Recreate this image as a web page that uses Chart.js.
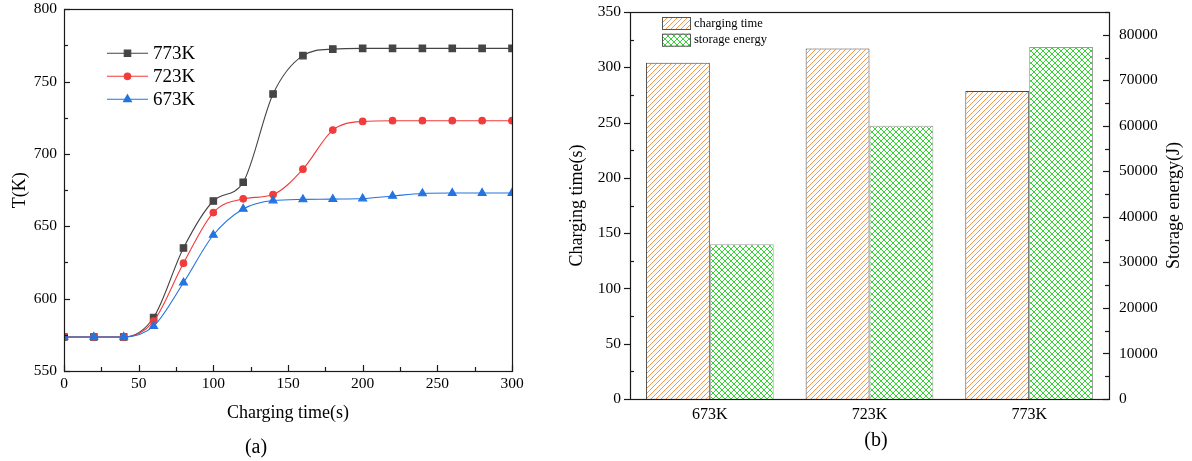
<!DOCTYPE html>
<html>
<head>
<meta charset="utf-8">
<script src="https://cdn.jsdelivr.net/npm/chart.js@4.4.1/dist/chart.umd.min.js"></script>
<style>
  html, body { margin: 0; padding: 0; background: #fff; }
  #wrap { position: relative; width: 1192px; height: 461px; }
  #chartA { position: absolute; left: 0; top: 0; }
  #chartB { position: absolute; left: 560px; top: 0; }
</style>
</head>
<body>
<div id="wrap">
  <canvas id="chartA" width="560" height="461"></canvas>
  <canvas id="chartB" width="632" height="461"></canvas>
</div>
<script>
// (a) outlet temperature vs charging time
const chargingTime = [0, 20, 40, 60, 80, 100, 120, 140, 160, 180, 200, 220, 240, 260, 280, 300];
const temp773 = [573.5, 573.5, 573.5, 587, 635, 667.5, 680.5, 741.5, 768, 772.5, 773, 773, 773, 773, 773, 773];
const temp723 = [573.5, 573.5, 573.5, 584.5, 624.5, 659.5, 669, 672, 689.5, 716.5, 722.5, 723, 723, 723, 723, 723];
const temp673 = [573.5, 573.5, 573.5, 581, 611, 644, 662, 667.8, 668.6, 668.8, 669.2, 671, 672.7, 673, 673, 673];

// (b) charging time and stored energy per temperature
const tempGroups = ['673K', '723K', '773K'];
const chargeTimeSec = [304, 317, 278.5];
const storageEnergyJ = [34000, 60000, 77300];

const serif = "'Liberation Serif', 'Times New Roman', serif";
const ink = '#1a1a1a';

const pts = (ys) => chargingTime.map((t, i) => ({ x: t, y: ys[i] }));

// fill patterns for the bars
function makePattern(color, step, cross) {
    const c = document.createElement('canvas');
    c.width = c.height = step;
    const g = c.getContext('2d');
    g.fillStyle = '#fff';
    g.fillRect(0, 0, step, step);
    g.strokeStyle = color;
    g.lineWidth = 1;
    g.beginPath();
    g.moveTo(-1, step + 1); g.lineTo(step + 1, -1);
    g.moveTo(-1, 1); g.lineTo(1, -1);
    g.moveTo(step - 1, step + 1); g.lineTo(step + 1, step - 1);
    if (cross) {
        g.moveTo(-1, -1); g.lineTo(step + 1, step + 1);
        g.moveTo(-1, step - 1); g.lineTo(1, step + 1);
        g.moveTo(step - 1, -1); g.lineTo(step + 1, 1);
    }
    g.stroke();
    return g.createPattern(c, 'repeat');
}
const orangeHatch = makePattern('#f39a4e', 5, false);
const greenCross = makePattern('#35d335', 6, true);

// box around plot + tick marks (origin style)
function drawFrame(chart) {
    const { ctx, chartArea: a } = chart;
    ctx.save();
    ctx.strokeStyle = ink;
    ctx.lineWidth = 1.2;
    ctx.strokeRect(Math.round(a.left) + 0.5, Math.round(a.top) + 0.5, Math.round(a.right - a.left), Math.round(a.bottom - a.top));
    ctx.restore();
}

function drawTicks(chart, id, minorStep, majorStep, majorOut, minorOut) {
    const s = chart.scales[id];
    const a = chart.chartArea;
    const ctx = chart.ctx;
    ctx.save();
    ctx.strokeStyle = ink;
    ctx.lineWidth = 1.2;
    s.ticks.forEach(t => {
        const r = t.value / minorStep;
        if (Math.abs(r - Math.round(r)) > 1e-6) return;
        const major = Math.abs(t.value % majorStep) < 1e-6;
        const len = major ? 6 : 4;
        const out = major ? majorOut : minorOut;
        const p = Math.round(s.getPixelForValue(t.value)) + 0.5;
        ctx.beginPath();
        if (s.position === 'bottom') {
            ctx.moveTo(p, a.bottom);
            ctx.lineTo(p, out ? a.bottom + len : a.bottom - len);
        } else {
            const x0 = s.position === 'left' ? a.left : a.right;
            const sign = s.position === 'left' ? (out ? -1 : 1) : (out ? 1 : -1);
            ctx.moveTo(x0, p);
            ctx.lineTo(x0 + sign * len, p);
        }
        ctx.stroke();
    });
    ctx.restore();
}

const chartAExtras = {
    id: 'chartAExtras',
    afterDraw(chart) {
        drawFrame(chart);
        drawTicks(chart, 'x', 25, 50, false, false);
        drawTicks(chart, 'y', 25, 50, false, false);
        // legend inside the plot, in 773/723/673 order
        const ctx = chart.ctx;
        const a = chart.chartArea;
        const x0 = a.left + 43, y0 = a.top + 44;
        const sets = chart.data.datasets;
        ctx.save();
        sets.forEach((ds, i) => {
            const y = y0 + i * 23;
            ctx.strokeStyle = ds.borderColor;
            ctx.fillStyle = ds.backgroundColor;
            ctx.lineWidth = ds.borderWidth;
            ctx.beginPath();
            ctx.moveTo(x0, y);
            ctx.lineTo(x0 + 41, y);
            ctx.stroke();
            Chart.helpers.drawPoint(ctx, { pointStyle: ds.pointStyle, radius: ds.pointRadius, rotation: 0, borderWidth: 1 }, x0 + 20.5, y);
            ctx.fillStyle = '#000';
            ctx.font = '19px ' + serif;
            ctx.textBaseline = 'middle';
            ctx.fillText(ds.label, x0 + 46, y + 1);
        });
        ctx.restore();
    }
};

const chartBExtras = {
    id: 'chartBExtras',
    afterDraw(chart) {
        drawFrame(chart);
        drawTicks(chart, 'y', 25, 50, true, false);
        drawTicks(chart, 'y1', 5000, 10000, false, false);
        const ctx = chart.ctx;
        const a = chart.chartArea;
        // right axis title reads bottom to top
        ctx.save();
        ctx.fillStyle = '#000';
        ctx.font = '18px ' + serif;
        ctx.textAlign = 'center';
        ctx.textBaseline = 'middle';
        ctx.translate(a.right + 65, (a.top + a.bottom) / 2);
        ctx.rotate(-Math.PI / 2);
        ctx.fillText('Storage energy(J)', 0, 0);
        ctx.restore();
        // legend boxes
        ctx.save();
        const lx = a.left + 32, ly = a.top + 5;
        chart.data.datasets.forEach((ds, i) => {
            const y = ly + i * 16.7;
            ctx.fillStyle = ds.backgroundColor;
            ctx.fillRect(lx, y, 29, 13);
            ctx.strokeStyle = '#555';
            ctx.lineWidth = 1;
            ctx.strokeRect(lx + 0.5, y + 0.5, 28, 12);
            ctx.fillStyle = '#000';
            ctx.font = '12.5px ' + serif;
            ctx.textBaseline = 'middle';
            ctx.fillText(ds.label, lx + 32, y + 6.5);
        });
        ctx.restore();
    }
};

const tickFont = { family: serif, size: 15.5 };
const titleFont = { family: serif, size: 18 };

// vertical axes: label gap comes from an invisible tick length instead of
// ticks.padding, since chart.js also adds ticks.padding above the plot
const hiddenGrid = (gap) => ({ display: false, drawTicks: true, tickLength: gap });

new Chart(document.getElementById('chartA'), {
    type: 'line',
    data: {
        datasets: [
            { label: '773K', data: pts(temp773), borderColor: '#454545', backgroundColor: '#454545', pointStyle: 'rect', pointRadius: 4.6, borderWidth: 1.1, cubicInterpolationMode: 'monotone', order: 3 },
            { label: '723K', data: pts(temp723), borderColor: '#f23b3b', backgroundColor: '#f23b3b', pointStyle: 'circle', pointRadius: 3.3, borderWidth: 1.1, cubicInterpolationMode: 'monotone', order: 2 },
            { label: '673K', data: pts(temp673), borderColor: '#2374e1', backgroundColor: '#2374e1', pointStyle: 'triangle', pointRadius: 4.6, borderWidth: 1.1, cubicInterpolationMode: 'monotone', order: 1 }
        ]
    },
    options: {
        responsive: false,
        animation: false,
        layout: { padding: { top: 0, right: 48, left: 0, bottom: 0 } },
        plugins: {
            legend: { display: false },
            tooltip: { enabled: false },
            title: { display: true, text: '(a)', position: 'bottom', color: '#000', font: { family: serif, size: 20, weight: 'normal' }, padding: { top: 0, bottom: 1 } }
        },
        scales: {
            x: {
                type: 'linear', min: 0, max: 300,
                grid: { display: false, drawTicks: false },
                border: { display: false },
                ticks: { stepSize: 25, autoSkip: false, maxRotation: 0, padding: 4, color: '#000', font: tickFont, callback: v => v % 50 === 0 ? v : '' },
                title: { display: true, text: 'Charging time(s)', color: '#000', font: titleFont, padding: { top: 0, bottom: 12 } },
                afterFit: s => { s.height = 65; }
            },
            y: {
                min: 550, max: 800,
                grid: hiddenGrid(7),
                border: { display: false },
                ticks: { stepSize: 25, autoSkip: false, padding: 0, color: '#000', font: tickFont, callback: v => v % 50 === 0 ? v : '' },
                title: { display: true, text: 'T(K)', color: '#000', font: titleFont, padding: { top: 9, bottom: 0 } },
                afterFit: s => { s.width = 64; }
            }
        }
    },
    plugins: [chartAExtras]
});

new Chart(document.getElementById('chartB'), {
    type: 'bar',
    data: {
        labels: tempGroups,
        datasets: [
            { label: 'charging time', data: chargeTimeSec, yAxisID: 'y', backgroundColor: orangeHatch, borderColor: '#4a4a4a', borderWidth: 1, borderSkipped: 'start' },
            { label: 'storage energy', data: storageEnergyJ, yAxisID: 'y1', backgroundColor: greenCross, borderColor: '#9c9c9c', borderWidth: 1, borderSkipped: 'start' }
        ]
    },
    options: {
        responsive: false,
        animation: false,
        layout: { padding: { top: 12, right: 0, left: 0, bottom: 0 } },
        datasets: { bar: { categoryPercentage: 0.8, barPercentage: 1.0 } },
        plugins: {
            legend: { display: false },
            tooltip: { enabled: false },
            title: { display: true, text: '(b)', position: 'bottom', color: '#000', font: { family: serif, size: 20, weight: 'normal' }, padding: { top: 0, bottom: 8 } }
        },
        scales: {
            x: {
                grid: { display: false, drawTicks: false },
                border: { display: false },
                ticks: { padding: 6, color: '#000', font: { family: serif, size: 16 } },
                afterFit: s => { s.height = 30; }
            },
            y: {
                position: 'left', min: 0, max: 350,
                grid: hiddenGrid(9),
                border: { display: false },
                ticks: { stepSize: 25, autoSkip: false, padding: 0, color: '#000', font: tickFont, callback: v => v % 50 === 0 ? v : '' },
                title: { display: true, text: 'Charging time(s)', color: '#000', font: titleFont, padding: { top: 6, bottom: 0 } },
                afterFit: s => { s.width = 70; }
            },
            y1: {
                position: 'right', min: 0, max: 85000,
                grid: hiddenGrid(10),
                border: { display: false },
                ticks: { stepSize: 5000, autoSkip: false, padding: 0, color: '#000', font: tickFont, callback: v => v % 10000 === 0 ? v : '' },
                afterFit: s => { s.width = 83; }
            }
        }
    },
    plugins: [chartBExtras]
});
</script>
</body>
</html>
